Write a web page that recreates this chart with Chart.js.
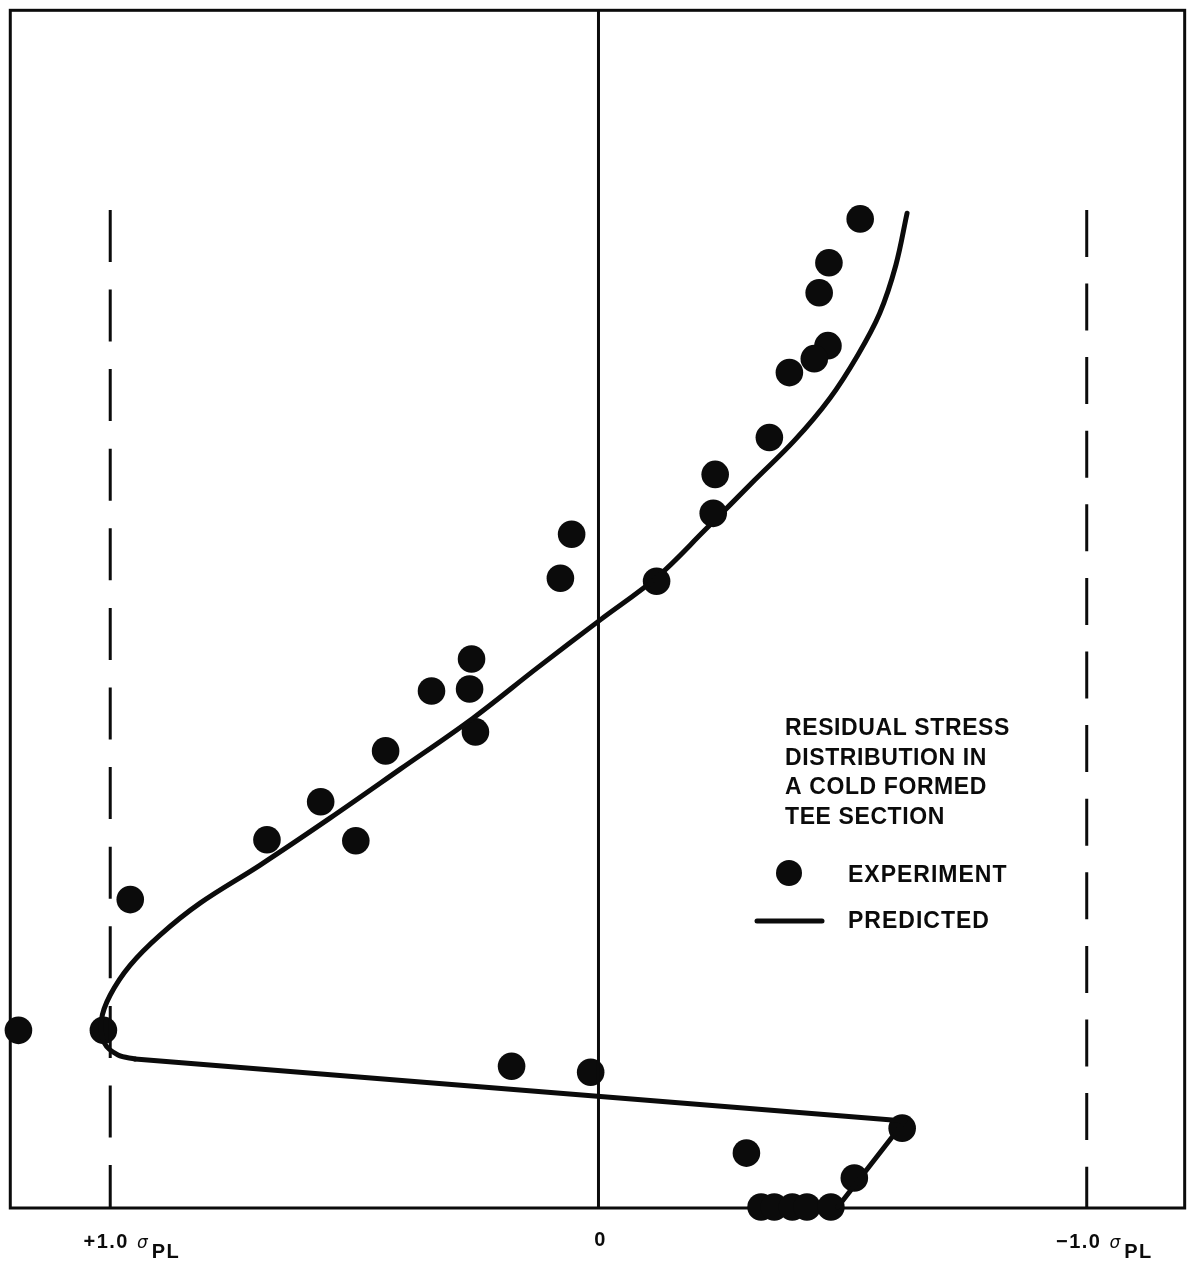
<!DOCTYPE html>
<html>
<head>
<meta charset="utf-8">
<script src="https://cdn.jsdelivr.net/npm/chart.js@4.4.1/dist/chart.umd.min.js"></script>
<style>
  html, body { margin: 0; padding: 0; background: #fff; }
  #wrap { width: 1187px; height: 1266px; }
</style>
</head>
<body>
<div id="wrap"><canvas id="c" width="1187" height="1266"></canvas></div>
<script>
// Residual stress (in units of the proportional limit, sigma_PL; + is tension, plotted to the left)
// against position along the tee section (arbitrary length units, 0 at the bottom).

// Measured points
const expStress = [-0.536, -0.472, -0.452, -0.470, -0.442, -0.391, -0.350, -0.239, -0.235,
                    0.055,  0.078, -0.119,  0.260,  0.342,  0.264,  0.252,  0.436,  0.569,
                    0.679,  0.497,  0.959,  1.188,  1.014,  0.178,  0.016, -0.622, -0.303,
                   -0.524, -0.333, -0.360, -0.397, -0.427, -0.476];
const expPos    = [99.1, 94.7, 91.7, 86.4, 85.1, 83.7, 77.2, 73.5, 69.6,
                   67.5, 63.1, 62.8, 55.0, 51.8, 52.0, 47.7, 45.8, 40.7,
                   36.9, 36.8, 30.9, 17.8, 17.8, 14.2, 13.6,  8.0,  5.5,
                    3.0,  0.1,  0.1,  0.1,  0.1,  0.1];

// Predicted distribution: smooth upper branch
const predStress = [-0.632, -0.609, -0.576, -0.531, -0.474, -0.402, -0.320, -0.218,
                    -0.120, -0.003,  0.126,  0.257,  0.406,  0.550,  0.693,  0.816,
                     0.898,  0.959,  1.000,  1.018,  1.012,  0.984,  0.949];
const predPos    = [99.67, 94.46, 89.65, 85.45, 81.14, 76.93, 72.93, 67.92,
                    63.21, 58.90, 54.09, 49.08, 43.97, 39.06, 34.36, 30.55,
                    27.35, 24.34, 21.34, 18.83, 16.53, 15.33, 14.93];
// Predicted distribution: straight lower branch
const lowerStress = [0.949, -0.627, -0.490];
const lowerPos    = [14.93,   8.71,   0.10];

// Axis ticks, reference lines and frame
const tickValues = [1.0, 0, -1.0];
const tickNumbers = ['+1.0', '0', '\u22121.0'];
const tickUnit = 'PL';
const yieldLines = [1.0, -1.0];
const yieldTop = 100;
const frameStress = [1.2047, -1.2006];
const framePos = [0, 120];
// scale window (the plotting area is inset by the marker radius)
const xMin = -1.1771, xMax = 1.1975;
const yMin = 0, yMax = 119.65;

// Caption and key
const captionLines = ['RESIDUAL STRESS', 'DISTRIBUTION IN', 'A COLD FORMED', 'TEE SECTION'];
const keyLabels = ['EXPERIMENT', 'PREDICTED'];

const pts = (xs, ys) => xs.map((x, i) => ({ x: x, y: ys[i] }));
const INK = '#0b0b0b';
const FONT = '"Liberation Sans", Arial, Helvetica, sans-serif';

const frameAndText = {
  id: 'frameAndText',
  beforeDatasetsDraw(chart) {
    const { ctx } = chart;
    const xs = chart.scales.x, ys = chart.scales.y;
    const l = xs.getPixelForValue(frameStress[0]);
    const r = xs.getPixelForValue(frameStress[1]);
    const b = ys.getPixelForValue(framePos[0]);
    const t = ys.getPixelForValue(framePos[1]);
    ctx.save();
    ctx.strokeStyle = INK;
    ctx.lineWidth = 3;
    ctx.strokeRect(l, t, r - l, b - t);
    ctx.restore();
  },
  afterDraw(chart) {
    const { ctx } = chart;
    const xs = chart.scales.x;
    ctx.save();
    ctx.fillStyle = INK;
    ctx.textBaseline = 'alphabetic';

    // axis labels
    tickValues.forEach((v, i) => {
      const px = xs.getPixelForValue(v);
      const num = tickNumbers[i];
      ctx.font = 'bold 20px ' + FONT;
      ctx.letterSpacing = '1.5px';
      if (v === 0) {
        ctx.textAlign = 'center';
        ctx.fillText(num, px + 2, 1246);
        return;
      }
      ctx.textAlign = 'left';
      const w = ctx.measureText(num).width;
      let x = px - 4 - w / 2 - (v < 0 ? 4 : 0);
      ctx.fillText(num, x, 1248);
      x += w + 8;
      ctx.letterSpacing = '0px';
      ctx.font = 'italic 17px "DejaVu Sans", sans-serif';
      ctx.fillText('\u03c3', x, 1248);
      x += ctx.measureText('\u03c3').width + 4;
      ctx.font = 'bold 20px ' + FONT;
      ctx.letterSpacing = '1.5px';
      ctx.fillText(tickUnit, x, 1258);
    });

    // caption
    ctx.textAlign = 'left';
    ctx.font = 'bold 23px ' + FONT;
    ctx.letterSpacing = '0.6px';
    const capBase = [735, 765, 794, 824];
    captionLines.forEach((t, i) => ctx.fillText(t, 785, capBase[i]));

    // key
    ctx.letterSpacing = '1px';
    ctx.beginPath();
    ctx.arc(789, 873, 13, 0, Math.PI * 2);
    ctx.fill();
    ctx.fillText(keyLabels[0], 848, 882);
    ctx.strokeStyle = INK;
    ctx.lineWidth = 5;
    ctx.lineCap = 'round';
    ctx.beginPath();
    ctx.moveTo(757, 921);
    ctx.lineTo(822, 921);
    ctx.stroke();
    ctx.fillText(keyLabels[1], 848, 928);
    ctx.restore();
  }
};

const lineDs = (data, extra) => Object.assign({
  data: data,
  showLine: true,
  borderColor: INK,
  backgroundColor: INK,
  pointRadius: 0,
  pointHoverRadius: 0,
  fill: false,
  clip: false
}, extra);

new Chart(document.getElementById('c'), {
  type: 'scatter',
  data: {
    datasets: [
      lineDs([{ x: 0, y: framePos[0] }, { x: 0, y: framePos[1] }], { borderWidth: 3 }),
      lineDs([{ x: yieldLines[0], y: yieldTop }, { x: yieldLines[0], y: framePos[0] }],
             { borderWidth: 3, borderDash: [52, 27.6] }),
      lineDs([{ x: yieldLines[1], y: yieldTop }, { x: yieldLines[1], y: framePos[0] }],
             { borderWidth: 3, borderDash: [47, 26.6] }),
      lineDs(pts(predStress, predPos), { borderWidth: 5, tension: 0.35, borderCapStyle: 'round', borderJoinStyle: 'round' }),
      lineDs(pts(lowerStress, lowerPos), { borderWidth: 5, tension: 0, borderCapStyle: 'round', borderJoinStyle: 'round' }),
      {
        data: pts(expStress, expPos),
        showLine: false,
        pointRadius: 13.8,
        pointHoverRadius: 13.8,
        pointBackgroundColor: INK,
        pointBorderColor: INK,
        pointBorderWidth: 0,
        clip: false
      }
    ]
  },
  options: {
    responsive: false,
    animation: false,
    devicePixelRatio: 1,
    layout: { padding: { left: 10, right: 2, top: 10, bottom: 58 } },
    plugins: { legend: { display: false }, tooltip: { enabled: false } },
    scales: {
      x: { type: 'linear', reverse: true, min: xMin, max: xMax, display: false },
      y: { type: 'linear', min: yMin, max: yMax, display: false }
    }
  },
  plugins: [frameAndText]
});
</script>
</body>
</html>
